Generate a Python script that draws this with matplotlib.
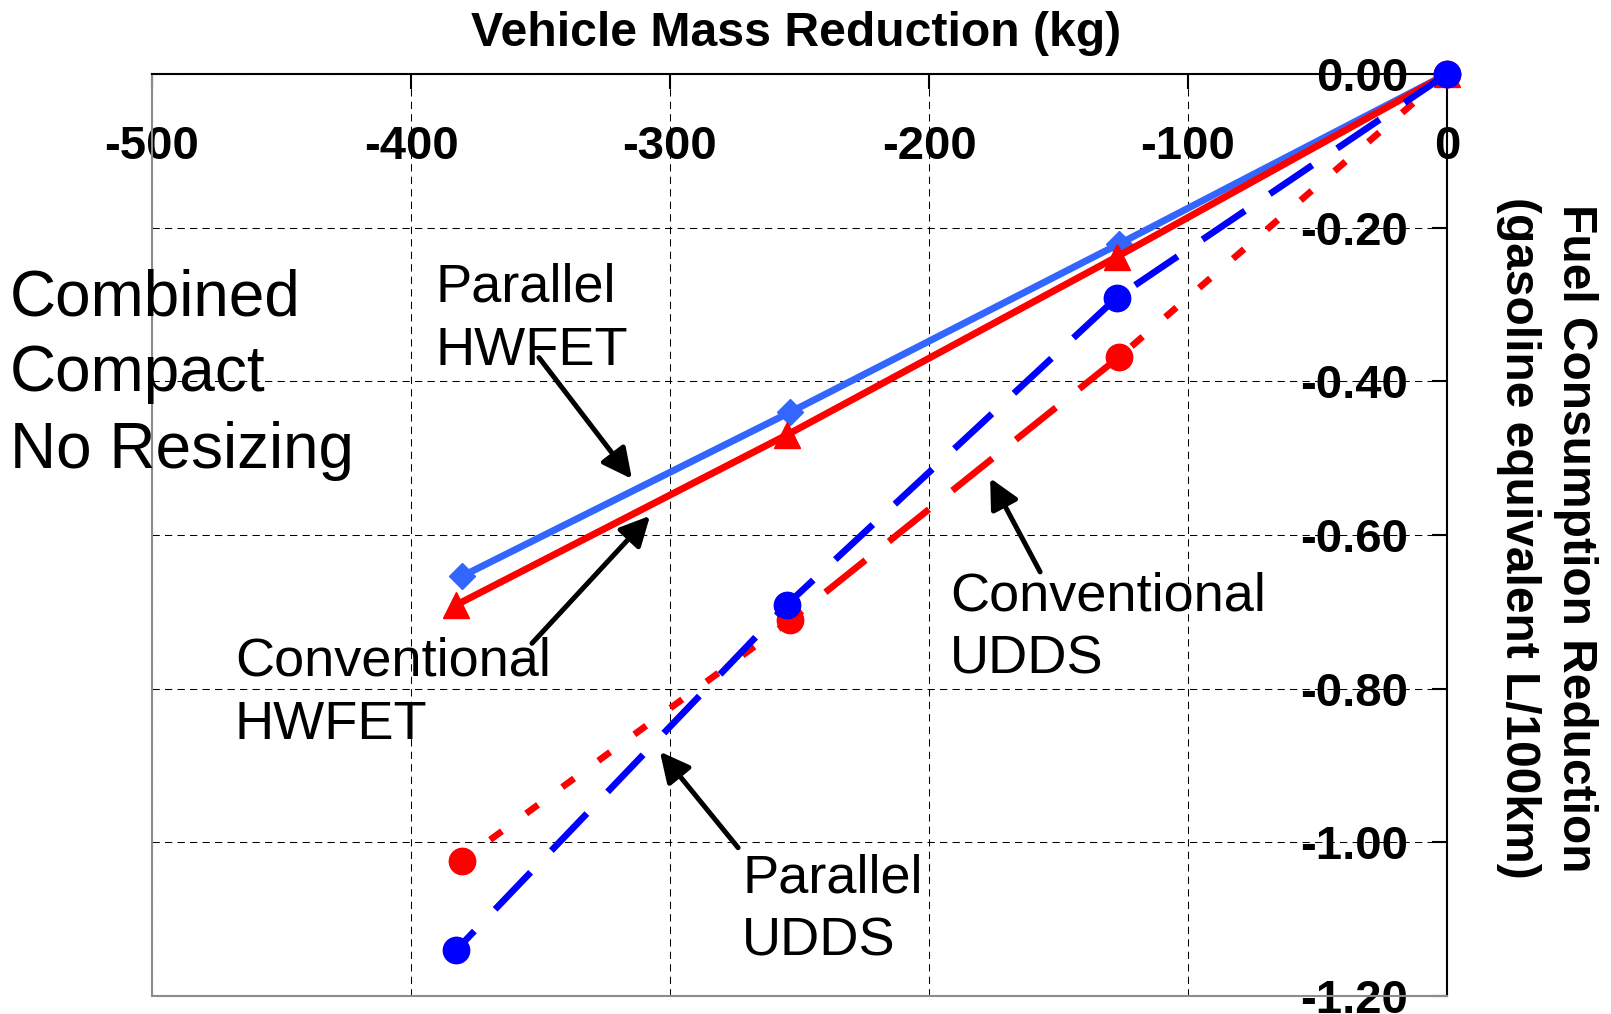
import matplotlib
matplotlib.use("Agg")
import matplotlib.pyplot as plt

plt.rcParams['font.family'] = ['Liberation Sans', 'DejaVu Sans']

# mass reduction (kg) and fuel consumption reduction (L/100km)
par_hwfet_mass = [0, -126.5, -253.5, -380.5]
par_hwfet_fc = [0, -0.221, -0.440, -0.654]

conv_hwfet_mass = [0, -127.5, -255, -382.5]
conv_hwfet_fc = [0, -0.238, -0.470, -0.691]

conv_udds_mass = [0, -126.5, -253.5, -380.5]
conv_udds_fc = [0, -0.368, -0.711, -1.024]

par_udds_mass = [0, -127.5, -255, -382.5]
par_udds_fc = [0, -0.291, -0.691, -1.140]

x_ticks = [-500, -400, -300, -200, -100, 0]
y_ticks = [0.0, -0.2, -0.4, -0.6, -0.8, -1.0, -1.2]

LIGHTBLUE = '#3366FF'
RED = '#FF0000'
BLUE = '#0000FF'

fig = plt.figure(figsize=(16.11, 10.14), dpi=100)
ax = fig.add_axes([152 / 1611, 1 - 996 / 1014, (1447 - 152) / 1611, (996 - 74) / 1014])

# axes cross at (0, 0): tick axes sit on the top/right edges
ax.spines['left'].set_position(('axes', 1.0))
ax.spines['bottom'].set_position(('axes', 1.0))
ax.spines['right'].set_position(('axes', 0.0))
ax.spines['top'].set_position(('axes', 0.0))
for s in ['left', 'bottom']:
    ax.spines[s].set_linewidth(1.5)
    ax.spines[s].set_color('black')
for s in ['right', 'top']:
    ax.spines[s].set_linewidth(1.5)
    ax.spines[s].set_color('#8c8c8c')

ax.set_xlim(-500, 0)
ax.set_ylim(-1.2, 0)
ax.set_xticks(x_ticks)
ax.set_xticklabels([str(v) for v in x_ticks])
ax.set_yticks(y_ticks)
ax.set_yticklabels(['%.2f' % v if v != 0 else '0.00' for v in y_ticks])
ax.tick_params(axis='x', length=11, width=1.5, pad=26, labelsize=34)
ax.tick_params(axis='y', length=11, width=1.5, pad=17, labelsize=34)
for lab in ax.get_xticklabels() + ax.get_yticklabels():
    lab.set_fontweight('bold')

ax.grid(True, color='black', lw=0.75, linestyle=(0, (7, 5)))

# series
ax.plot(par_hwfet_mass, par_hwfet_fc, color=LIGHTBLUE, lw=5, marker='D', ms=13,
        zorder=3, clip_on=False)
ax.plot(conv_hwfet_mass, conv_hwfet_fc, color=RED, lw=5, marker='^', ms=19,
        zorder=3, clip_on=False)

# conventional UDDS: dash pattern differs per segment in the original
seg_dashes = [(2.2, 4.5), (7.7, 4.5), (2.2, 4.5)]
for i in range(len(conv_udds_mass) - 1):
    ax.plot(conv_udds_mass[i:i + 2], conv_udds_fc[i:i + 2], color=RED, lw=4.8,
            dashes=seg_dashes[i], zorder=3, clip_on=False)
ax.plot(conv_udds_mass, conv_udds_fc, ls='none', color=RED, marker='o', ms=19,
        zorder=3, clip_on=False)

ax.plot(par_udds_mass, par_udds_fc, color=BLUE, lw=4.8, dashes=(7.7, 4.5),
        marker='o', ms=19, zorder=3, clip_on=False)

# labels and arrows
txt = dict(fontsize=39, ha='left', va='top', linespacing=1.35)
ax.text(-555.0, -0.2525, 'Combined\nCompact\nNo Resizing', fontsize=46, ha='left',
        va='top', linespacing=1.35)
ax.text(-390.7, -0.2447, 'Parallel\nHWFET', **txt)
ax.text(-468.0, -0.7315, 'Conventional\nHWFET', **txt)
ax.text(-191.9, -0.6469, 'Conventional\nUDDS', **txt)
ax.text(-272.2, -1.0139, 'Parallel\nUDDS', **txt)

arrow = dict(arrowstyle='-|>,head_length=0.6,head_width=0.3', color='black', lw=3.6,
             mutation_scale=30, shrinkA=0, shrinkB=0)
ax.annotate('', xy=(-314.7, -0.527), xytext=(-350.6, -0.369), arrowprops=arrow)
ax.annotate('', xy=(-307.7, -0.575), xytext=(-353.3, -0.741), arrowprops=arrow)
ax.annotate('', xy=(-176.4, -0.526), xytext=(-157.1, -0.648), arrowprops=arrow)
ax.annotate('', xy=(-303.9, -0.882), xytext=(-273.7, -1.007), arrowprops=arrow)

fig.text(796 / 1611, 1 - 34 / 1014, 'Vehicle Mass Reduction (kg)', fontsize=34.7,
         fontweight='bold', ha='center', va='center')
fig.text(1547 / 1611, 1 - 538 / 1014,
         'Fuel Consumption Reduction\n(gasoline equivalent L/100km)', fontsize=34.5,
         fontweight='bold', ha='center', va='center', rotation=-90, linespacing=1.32)

fig.savefig('out.png', dpi=100)
